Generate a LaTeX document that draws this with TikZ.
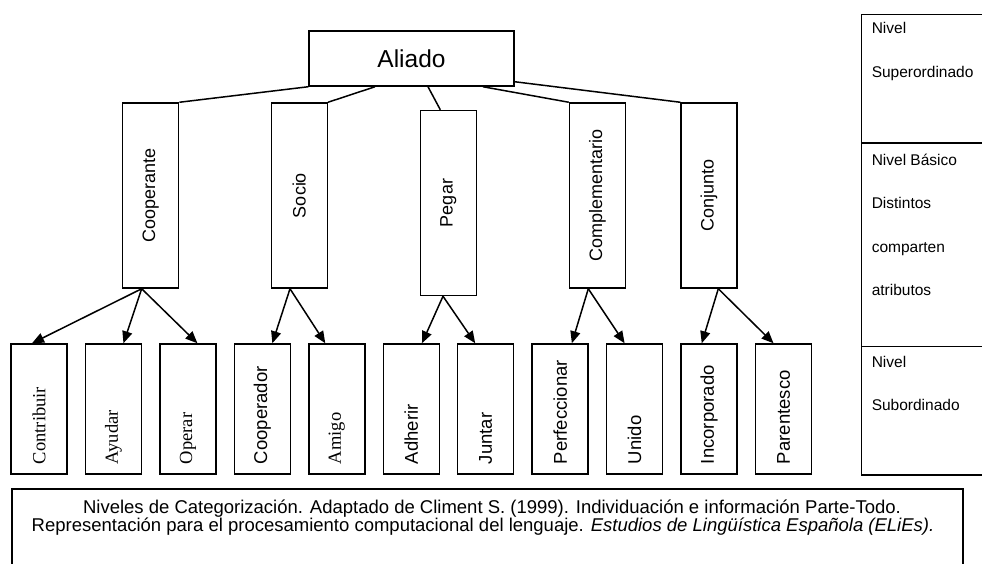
\documentclass[tikz,border=0pt]{standalone}
\usepackage{fontspec}
\setmainfont{Liberation Sans}
\newfontfamily\timesfont{Liberation Serif}
\usetikzlibrary{arrows.meta,positioning}
\tikzstyle{aliadobox} = [rectangle, draw, minimum width=205pt, minimum height=55pt,
    font=\fontsize{24.5}{28}\selectfont]
\tikzstyle{basicbox} = [rectangle, draw, inner sep=0pt, minimum width=56pt,
    minimum height=185pt, font=\fontsize{18}{21}\selectfont]
\tikzstyle{leafbox} = [rectangle, draw, inner sep=0pt, minimum width=56pt,
    minimum height=130pt, font=\fontsize{18.5}{21}\selectfont]
\tikzstyle{lvlbox} = [rectangle, draw, anchor=north west, minimum width=140pt]
\tikzstyle{lvltext} = [anchor=base west, inner sep=0pt, font=\fontsize{15.5}{18}\selectfont]
\tikzstyle{captext} = [anchor=base, inner sep=0pt, font=\fontsize{18.5}{21}\selectfont]
\newcommand{\vlab}[1]{\rotatebox{90}{\makebox[110pt][l]{#1}}}

\begin{document}
\begin{tikzpicture}[x=1pt,y=-1pt,line width=1.5pt,>={Triangle[length=12pt,width=10pt]},
                    node distance=74.45pt]
  \useasboundingbox (0,0) rectangle (982,564);
  \clip (0,0) rectangle (982,564);

  \node[aliadobox] (aliado)         at (411.5,58.5) {Aliado};
  \node[basicbox]  (cooperante)     at (150.7,195.5) {\rotatebox{90}{Cooperante}};
  \node[basicbox]  (socio)          at (299.3,195.5) {\rotatebox{90}{Socio}};
  \node[basicbox]  (pegar)          at (448.3,203) {\rotatebox{90}{Pegar}};
  \node[basicbox]  (complementario) at (597.5,195.5) {\rotatebox{90}{Complementario}};
  \node[basicbox]  (conjunto)       at (709,195.5) {\rotatebox{90}{Conjunto}};

  \node[leafbox] (contribuir)                        at (39,409) {\vlab{\timesfont Contribuir}};
  \node[leafbox] (ayudar)       [right of=contribuir]   {\vlab{\timesfont Ayudar}};
  \node[leafbox] (operar)       [right of=ayudar]       {\vlab{\timesfont Operar}};
  \node[leafbox] (cooperador)   [right of=operar]       {\vlab{Cooperador}};
  \node[leafbox] (amigo)        [right of=cooperador]   {\vlab{\timesfont Amigo}};
  \node[leafbox] (adherir)      [right of=amigo]        {\vlab{Adherir}};
  \node[leafbox] (juntar)       [right of=adherir]      {\vlab{Juntar}};
  \node[leafbox] (perfeccionar) [right of=juntar]       {\vlab{Perfeccionar}};
  \node[leafbox] (unido)        [right of=perfeccionar] {\vlab{Unido}};
  \node[leafbox] (incorporado)  [right of=unido]        {\vlab{Incorporado}};
  \node[leafbox] (parentesco)   [right of=incorporado]  {\vlab{Parentesco}};

  % superordinate -> basic level
  \path (aliado.south west) edge (cooperante.north east)
        ([xshift=-36.5pt]aliado.south) edge (socio.north east)
        ([xshift=16.5pt]aliado.south) edge ([xshift=-8pt]pegar.north)
        ([xshift=71.5pt]aliado.south) edge (complementario.north west)
        ([yshift=5pt]aliado.south east) edge (conjunto.north west);

  % basic level -> subordinate
  \path[->] ([xshift=-9pt]cooperante.south) edge ([xshift=-7pt]contribuir.north)
                                            edge ([xshift=10pt]ayudar.north)
                                            edge ([xshift=9.5pt]operar.north)
            ([xshift=-9.3pt]socio.south) edge ([xshift=10pt]cooperador.north)
                                         edge ([xshift=-11.5pt]amigo.north)
            ([xshift=-5.3pt]pegar.south) edge ([xshift=10.7pt]adherir.north)
                                         edge ([xshift=-10.5pt]juntar.north)
            ([xshift=-9.2pt]complementario.south) edge ([xshift=11.7pt]perfeccionar.north)
                                                  edge ([xshift=-10pt]unido.north)
            ([xshift=9.3pt]conjunto.south) edge ([xshift=-7.3pt]incorporado.north)
                                           edge ([xshift=-10pt]parentesco.north);

  % levels panel
  \node[lvlbox, minimum height=128.8pt] (superord) at (860.7,13.7) {};
  \node[lvlbox, minimum height=203.2pt] (basico)   at (860.7,142.5) {};
  \node[lvlbox, minimum height=128.6pt] (subord)   at (860.7,345.7) {};
  \node[lvltext] (nivsup)  at (871,34)    {Nivel};
  \node[lvltext] (sup)     at (871,78)    {Superordinado};
  \node[lvltext] (nivbas)  at (871,165.5) {Nivel Básico};
  \node[lvltext] (dist)    at (871,208.8) {Distintos};
  \node[lvltext] (comp)    at (871,252)   {comparten};
  \node[lvltext] (atrib)   at (871,295)   {atributos};
  \node[lvltext] (nivsub)  at (871,367.5) {Nivel};
  \node[lvltext] (sub)     at (871,410.5) {Subordinado};

  % caption
  \node[rectangle, draw, anchor=north west, minimum width=951pt, minimum height=100pt]
        (capbox) at (11,488) {};
  \node[captext] (cap1) at (492,513)
        {Niveles de Categorización. Adaptado de Climent S. (1999). Individuación e información Parte-Todo.};
  \node[captext] (cap2) at (483,531)
        {Representación para el procesamiento computacional del lenguaje. \textit{Estudios de Lingüística Española (ELiEs).}};
\end{tikzpicture}
\end{document}
